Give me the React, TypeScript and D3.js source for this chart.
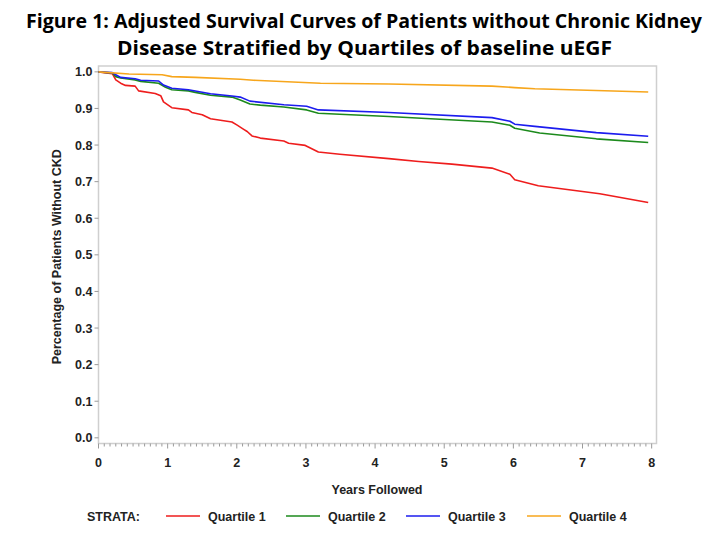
import * as d3 from 'd3'
import { useEffect, useRef } from 'react'

// Kaplan-Meier style adjusted survival
const q1Time = [0, 0.2, 0.25, 0.32, 0.39, 0.53, 0.58, 0.82, 0.9, 0.94, 1.06, 1.3, 1.35, 1.5, 1.62, 1.93, 2.0, 2.1, 2.15, 2.22, 2.34, 2.68, 2.75, 2.99, 3.18, 3.49, 4.2, 4.63, 5.11, 5.69, 5.95, 6.02, 6.36, 7.25, 7.95]
const q1Surv = [1, 0.995, 0.978, 0.969, 0.963, 0.961, 0.948, 0.941, 0.935, 0.918, 0.902, 0.896, 0.889, 0.883, 0.872, 0.863, 0.855, 0.843, 0.837, 0.825, 0.819, 0.811, 0.805, 0.799, 0.781, 0.775, 0.763, 0.755, 0.748, 0.737, 0.72, 0.705, 0.689, 0.667, 0.643]

const q2Time = [0, 0.2, 0.25, 0.32, 0.53, 0.61, 0.87, 0.97, 1.06, 1.3, 1.4, 1.62, 1.93, 2.05, 2.19, 2.34, 2.68, 3.01, 3.18, 3.49, 4.2, 4.87, 5.69, 5.95, 6.02, 6.38, 7.2, 7.95]
const q2Surv = [1, 0.997, 0.987, 0.983, 0.978, 0.974, 0.969, 0.958, 0.951, 0.948, 0.944, 0.936, 0.931, 0.923, 0.912, 0.909, 0.904, 0.896, 0.887, 0.884, 0.878, 0.871, 0.863, 0.854, 0.846, 0.833, 0.817, 0.807]

const q3Time = [0, 0.2, 0.25, 0.32, 0.53, 0.61, 0.87, 0.94, 1.06, 1.3, 1.62, 1.93, 2.05, 2.19, 2.68, 3.01, 3.18, 4.2, 5.69, 5.95, 6.02, 6.31, 7.2, 7.95]
const q3Surv = [1, 0.998, 0.992, 0.985, 0.981, 0.977, 0.975, 0.964, 0.955, 0.951, 0.94, 0.934, 0.931, 0.92, 0.91, 0.906, 0.896, 0.889, 0.875, 0.865, 0.857, 0.851, 0.834, 0.824]

const q4Time = [0, 0.44, 0.92, 1.06, 1.4, 2.05, 2.24, 3.21, 4.2, 5.69, 6.02, 6.31, 7.95]
const q4Surv = [1, 0.994, 0.992, 0.987, 0.985, 0.98, 0.977, 0.969, 0.967, 0.961, 0.957, 0.954, 0.945]

const strata = ['Quartile 1', 'Quartile 2', 'Quartile 3', 'Quartile 4']
const colors = ['#ee1d1d', '#1c8a1c', '#1c1cee', '#f7a61c']
const yTicks = [0, 0.1, 0.2, 0.3, 0.4, 0.5, 0.6, 0.7, 0.8, 0.9, 1.0]
const xTicks = [0, 1, 2, 3, 4, 5, 6, 7, 8]

const W = 720
const H = 540
const plot = { left: 98.5, right: 656.5, top: 66, bottom: 443.5 }
const axisFont = '"Liberation Sans", Arial, sans-serif'
const titleFont = '"Open Sans", "Noto Sans", sans-serif'
const fs = 12.5

export default function App() {
  const ref = useRef<SVGSVGElement>(null)

  useEffect(() => {
    const svg = d3.select(ref.current)
    svg.selectAll('*').remove()

    const x = d3.scaleLinear().domain([0, 8.07]).range([plot.left, plot.right])
    const y = d3.scaleLinear().domain([-0.0155, 1.016]).range([plot.bottom, plot.top])

    // title
    const title = svg.append('g').attr('font-family', titleFont).attr('font-weight', 700).attr('font-size', 20)
    title
      .append('text')
      .attr('x', 26)
      .attr('y', 28)
      .attr('textLength', 676)
      .attr('lengthAdjust', 'spacingAndGlyphs')
      .text('Figure 1: Adjusted Survival Curves of Patients without Chronic Kidney')
    title
      .append('text')
      .attr('x', 117)
      .attr('y', 55)
      .attr('textLength', 495)
      .attr('lengthAdjust', 'spacingAndGlyphs')
      .text('Disease Stratified by Quartiles of baseline uEGF')

    // frame
    svg
      .append('rect')
      .attr('x', plot.left)
      .attr('y', plot.top)
      .attr('width', plot.right - plot.left)
      .attr('height', plot.bottom - plot.top)
      .attr('fill', 'none')
      .attr('stroke', '#cfcfcf')
      .attr('stroke-width', 1.5)

    // y axis
    const yAxis = svg.append('g').attr('font-family', axisFont).attr('font-weight', 700).attr('font-size', fs)
    yAxis
      .selectAll('line')
      .data(yTicks)
      .enter()
      .append('line')
      .attr('x1', plot.left - 4)
      .attr('x2', plot.left)
      .attr('y1', (d) => y(d))
      .attr('y2', (d) => y(d))
      .attr('stroke', '#9a9a9a')
    yAxis
      .selectAll('text')
      .data(yTicks)
      .enter()
      .append('text')
      .attr('x', plot.left - 6)
      .attr('y', (d) => y(d) + 4.5)
      .attr('text-anchor', 'end')
      .attr('fill', '#222')
      .text((d) => d.toFixed(1))

    // x axis with monthly minor ticks
    const xAxis = svg.append('g').attr('font-family', axisFont).attr('font-weight', 700).attr('font-size', fs)
    const minor = d3.range(0, 97).map((i) => i / 12)
    xAxis
      .selectAll('line.minor')
      .data(minor)
      .enter()
      .append('line')
      .attr('class', 'minor')
      .attr('x1', (d) => x(d))
      .attr('x2', (d) => x(d))
      .attr('y1', plot.bottom)
      .attr('y2', (d, i) => plot.bottom + (i % 12 === 0 ? 5 : 3))
      .attr('stroke', '#9a9a9a')
    xAxis
      .selectAll('text')
      .data(xTicks)
      .enter()
      .append('text')
      .attr('x', (d) => x(d))
      .attr('y', 467)
      .attr('text-anchor', 'middle')
      .attr('fill', '#222')
      .text((d) => d)

    svg
      .append('text')
      .attr('x', 377)
      .attr('y', 494)
      .attr('text-anchor', 'middle')
      .attr('font-family', axisFont)
      .attr('font-weight', 700)
      .attr('font-size', fs)
      .attr('fill', '#222')
      .text('Years Followed')

    svg
      .append('text')
      .attr('transform', `translate(61, ${(plot.top + plot.bottom) / 2 + 2}) rotate(-90)`)
      .attr('text-anchor', 'middle')
      .attr('font-family', axisFont)
      .attr('font-weight', 700)
      .attr('font-size', fs)
      .attr('fill', '#222')
      .text('Percentage of Patients Without CKD')

    // curves
    const series = [
      q1Time.map((t, i) => [t, q1Surv[i]]),
      q2Time.map((t, i) => [t, q2Surv[i]]),
      q3Time.map((t, i) => [t, q3Surv[i]]),
      q4Time.map((t, i) => [t, q4Surv[i]]),
    ] as [number, number][][]
    const line = d3
      .line<[number, number]>()
      .x((d) => x(d[0]))
      .y((d) => y(d[1]))
    series.forEach((s, i) => {
      svg
        .append('path')
        .datum(s)
        .attr('d', line)
        .attr('fill', 'none')
        .attr('stroke', colors[i])
        .attr('stroke-width', 1.6)
        .attr('stroke-linejoin', 'round')
    })

    // legend
    const lg = svg.append('g').attr('font-family', axisFont).attr('font-weight', 700).attr('font-size', fs).attr('fill', '#222')
    lg.append('text').attr('x', 87).attr('y', 520.5).text('STRATA:')
    const legX = [166, 286, 406, 527]
    strata.forEach((s, i) => {
      lg.append('line')
        .attr('x1', legX[i])
        .attr('x2', legX[i] + 34)
        .attr('y1', 516)
        .attr('y2', 516)
        .attr('stroke', colors[i])
        .attr('stroke-width', 1.6)
      lg.append('text').attr('x', legX[i] + 42).attr('y', 520.5).text(s)
    })
  }, [])

  return (
    <svg
      ref={ref}
      width={W}
      height={H}
      style={{ position: 'absolute', left: 0, top: 0, background: '#fff' }}
    />
  )
}
